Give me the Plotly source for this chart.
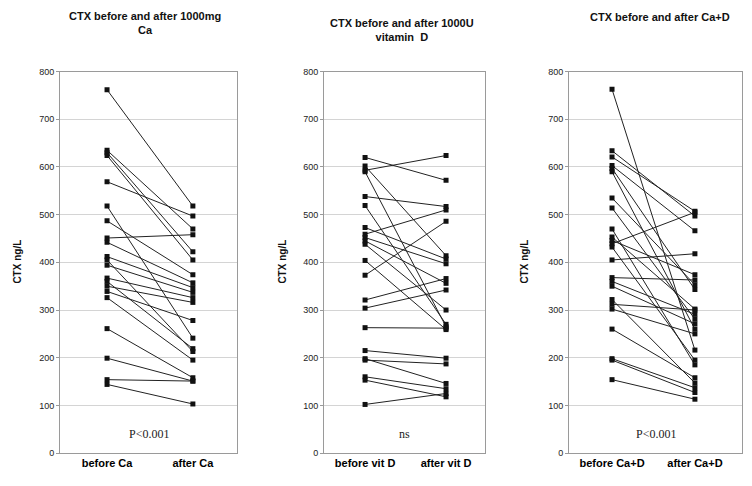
import plotly.graph_objects as go

# CTX (ng/L) paired measurements, before and after each supplement
ca_before = [762, 635, 630, 624, 569, 518, 487, 451, 442, 412, 405, 394, 367, 360, 350, 339, 326, 261, 199, 154, 144]
ca_after = [518, 470, 422, 405, 497, 241, 374, 458, 357, 347, 213, 337, 326, 219, 316, 278, 195, 158, 151, 151, 103]

vd_before = [620, 602, 593, 590, 538, 519, 473, 459, 452, 445, 438, 404, 373, 321, 304, 263, 215, 198, 195, 160, 153, 102]
vd_after = [572, 414, 624, 265, 517, 270, 407, 510, 397, 356, 300, 259, 486, 366, 342, 262, 199, 146, 187, 135, 118, 125]

cad_before = [763, 634, 621, 603, 597, 590, 535, 514, 470, 453, 446, 439, 432, 405, 368, 360, 350, 322, 312, 302, 260, 198, 195, 154]
cad_after = [216, 497, 507, 466, 343, 260, 353, 281, 185, 302, 374, 505, 195, 418, 363, 291, 271, 147, 300, 250, 158, 137, 127, 113]

titles = ["CTX before and after 1000mg<br>Ca", "CTX before and after 1000U<br>vitamin  D", "CTX before and after Ca+D"]
tick_labels = [["before Ca", "after Ca"], ["before vit D", "after vit D"], ["before Ca+D", "after Ca+D"]]
notes = ["P<0.001", "ns", "P<0.001"]
y_ticks = list(range(0, 801, 100))

panels = [(ca_before, ca_after), (vd_before, vd_after), (cad_before, cad_after)]

W, H = 752, 486
# plot-area boxes in pixels: (left, right)
boxes = [(60, 237), (324, 485), (569, 742)]
top_px, bot_px = 68, 457.5
x_ranges = [[-0.548, 1.514], [-0.507, 1.481], [-0.519, 1.568]]
title_pos = [(145, 3), (402, 10), (660, 4)]
ytitle_x = [18, 283, 525]

fig = go.Figure()
font = "Liberation Sans, Arial, sans-serif"

for i, (before, after) in enumerate(panels):
    xs, ys = [], []
    for b, a in zip(before, after):
        xs += [0, 1, None]
        ys += [b, a, None]
    suffix = "" if i == 0 else str(i + 1)
    fig.add_trace(go.Scatter(
        x=xs, y=ys, mode="lines+markers",
        line=dict(color="#222222", width=1),
        marker=dict(symbol="square", size=5, color="#111111"),
        xaxis="x" + suffix, yaxis="y" + suffix,
        showlegend=False, hoverinfo="skip",
    ))
    l, r = boxes[i]
    fig.update_layout(**{
        "xaxis" + suffix: dict(
            domain=[l / W, r / W], range=x_ranges[i], anchor="y" + suffix,
            tickvals=[0, 1], ticktext=[f"<b>{t}</b>" for t in tick_labels[i]],
            tickfont=dict(family=font, size=11, color="#000000"),
            showgrid=False, zeroline=False, showline=True, mirror=True,
            linecolor="#9a9a9a", linewidth=1, ticks="", ticklen=0,
        ),
        "yaxis" + suffix: dict(
            domain=[1 - bot_px / H, 1 - top_px / H], range=[0, 800], anchor="x" + suffix,
            tickvals=y_ticks, tickfont=dict(family=font, size=9, color="#222222"),
            showgrid=True, gridcolor="#d4d4d4", gridwidth=1, zeroline=False,
            showline=True, mirror=True, linecolor="#9a9a9a", linewidth=1,
            ticks="outside", ticklen=3, tickcolor="#9a9a9a",
        ),
    })
    # panel title
    tx, ty = title_pos[i]
    fig.add_annotation(
        x=tx / W, y=1 - ty / H, xref="paper", yref="paper",
        text=f"<b>{titles[i]}</b>", showarrow=False, xanchor="center", yanchor="top",
        font=dict(family=font, size=11, color="#111111"), align="center",
    )
    # y-axis title
    fig.add_annotation(
        x=ytitle_x[i] / W, y=1 - 262 / H, xref="paper", yref="paper",
        text="<b>CTX ng/L</b>", showarrow=False, textangle=-90,
        xanchor="center", yanchor="middle",
        font=dict(family=font, size=10, color="#111111"),
    )
    # significance note near the bottom of each panel
    fig.add_annotation(
        x=((l + r) / 2) / W, y=40, xref="paper", yref="y" + suffix,
        text=notes[i], showarrow=False, xanchor="center", yanchor="middle",
        font=dict(family="Liberation Serif, Times New Roman, serif", size=12, color="#222222"),
    )

fig.update_layout(
    width=W, height=H, margin=dict(l=0, r=0, t=0, b=0),
    paper_bgcolor="white", plot_bgcolor="white",
)

fig.write_html("out.html")
